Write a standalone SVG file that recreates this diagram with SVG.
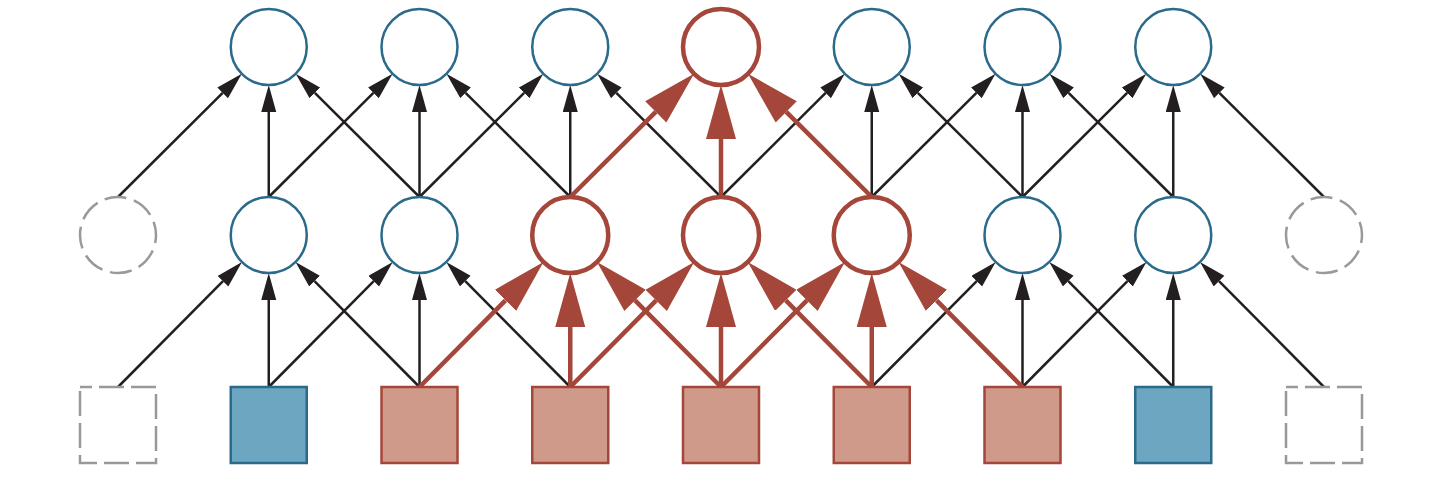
<svg xmlns="http://www.w3.org/2000/svg" width="1438" height="483" viewBox="0 0 1438 483">
<defs>
<style>
.bg{fill:#ffffff}
.e{fill:none;stroke:#231f20;stroke-width:2.5;marker-end:url(#ab)}
.er{fill:none;stroke:#a5463a;stroke-width:4.5;marker-end:url(#ar)}
.cb{fill:#ffffff;stroke:#2a6a8a;stroke-width:2.5}
.cr{fill:#ffffff;stroke:#a5463a;stroke-width:4.5}
.dc{fill:none;stroke:#999999;stroke-width:2.5;stroke-dasharray:22 7.87;stroke-dashoffset:14}
.ds{fill:none;stroke:#999999;stroke-width:2.5;stroke-dasharray:25 7;stroke-dashoffset:13}
.sb{fill:#6ca6c1;stroke:#2a6a8a;stroke-width:2.5}
.sr{fill:#d09a8b;stroke:#a5463a;stroke-width:2.5}
</style>
<marker id="ab" markerUnits="userSpaceOnUse" markerWidth="28" markerHeight="16" refX="0" refY="7.5" orient="auto">
<path d="M0,0 L27,7.5 L0,15 Z" fill="#231f20"/>
</marker>
<marker id="ar" markerUnits="userSpaceOnUse" markerWidth="55" markerHeight="31" refX="0" refY="15" orient="auto">
<path d="M0,0 L54,15 L0,30 Z" fill="#a5463a"/>
</marker>
</defs>
<rect class="bg" x="0" y="0" width="1438" height="483"/>
<g id="connectors">
<line class="e" x1="118" y1="387" x2="222.98" y2="281.15"/>
<line class="e" x1="268.75" y1="387" x2="268.75" y2="300"/>
<line class="e" x1="419.5" y1="387" x2="314.52" y2="281.15"/>
<line class="e" x1="268.75" y1="387" x2="373.73" y2="281.15"/>
<line class="e" x1="419.5" y1="387" x2="419.5" y2="300"/>
<line class="e" x1="570.25" y1="387" x2="465.27" y2="281.15"/>
<line class="e" x1="871.75" y1="387" x2="976.73" y2="281.15"/>
<line class="e" x1="1022.5" y1="387" x2="1022.5" y2="300"/>
<line class="e" x1="1173.25" y1="387" x2="1068.27" y2="281.15"/>
<line class="e" x1="1022.5" y1="387" x2="1127.48" y2="281.15"/>
<line class="e" x1="1173.25" y1="387" x2="1173.25" y2="300"/>
<line class="e" x1="1324" y1="387" x2="1219.02" y2="281.15"/>
<line class="e" x1="118" y1="197" x2="222.67" y2="92.84"/>
<line class="e" x1="268.75" y1="197" x2="268.75" y2="112"/>
<line class="e" x1="419.5" y1="197" x2="314.83" y2="92.84"/>
<line class="e" x1="268.75" y1="197" x2="373.42" y2="92.84"/>
<line class="e" x1="419.5" y1="197" x2="419.5" y2="112"/>
<line class="e" x1="570.25" y1="197" x2="465.58" y2="92.84"/>
<line class="e" x1="419.5" y1="197" x2="524.17" y2="92.84"/>
<line class="e" x1="570.25" y1="197" x2="570.25" y2="112"/>
<line class="e" x1="721" y1="197" x2="616.33" y2="92.84"/>
<line class="e" x1="721" y1="197" x2="825.67" y2="92.84"/>
<line class="e" x1="871.75" y1="197" x2="871.75" y2="112"/>
<line class="e" x1="1022.5" y1="197" x2="917.83" y2="92.84"/>
<line class="e" x1="871.75" y1="197" x2="976.42" y2="92.84"/>
<line class="e" x1="1022.5" y1="197" x2="1022.5" y2="112"/>
<line class="e" x1="1173.25" y1="197" x2="1068.58" y2="92.84"/>
<line class="e" x1="1022.5" y1="197" x2="1127.17" y2="92.84"/>
<line class="e" x1="1173.25" y1="197" x2="1173.25" y2="112"/>
<line class="e" x1="1324" y1="197" x2="1219.33" y2="92.84"/>
<line class="er" x1="419.5" y1="387" x2="505.46" y2="300.32"/>
<line class="er" x1="570.25" y1="387" x2="570.25" y2="327"/>
<line class="er" x1="721" y1="387" x2="635.04" y2="300.32"/>
<line class="er" x1="570.25" y1="387" x2="656.21" y2="300.32"/>
<line class="er" x1="721" y1="387" x2="721" y2="327"/>
<line class="er" x1="871.75" y1="387" x2="785.79" y2="300.32"/>
<line class="er" x1="721" y1="387" x2="806.96" y2="300.32"/>
<line class="er" x1="871.75" y1="387" x2="871.75" y2="327"/>
<line class="er" x1="1022.5" y1="387" x2="936.54" y2="300.32"/>
<line class="er" x1="570.25" y1="197" x2="655.78" y2="111.89"/>
<line class="er" x1="721" y1="197" x2="721" y2="139"/>
<line class="er" x1="871.75" y1="197" x2="786.22" y2="111.89"/>
</g>
<g id="top-row">
<circle id="t1" class="cb" cx="268.75" cy="47" r="38"/>
<circle id="t2" class="cb" cx="419.5" cy="47" r="38"/>
<circle id="t3" class="cb" cx="570.25" cy="47" r="38"/>
<circle id="t4" class="cr" cx="721" cy="47" r="38"/>
<circle id="t5" class="cb" cx="871.75" cy="47" r="38"/>
<circle id="t6" class="cb" cx="1022.5" cy="47" r="38"/>
<circle id="t7" class="cb" cx="1173.25" cy="47" r="38"/>
</g>
<g id="middle-row">
<circle id="m0" class="dc" cx="118" cy="235" r="38"/>
<circle id="m1" class="cb" cx="268.75" cy="235" r="38"/>
<circle id="m2" class="cb" cx="419.5" cy="235" r="38"/>
<circle id="m3" class="cr" cx="570.25" cy="235" r="38"/>
<circle id="m4" class="cr" cx="721" cy="235" r="38"/>
<circle id="m5" class="cr" cx="871.75" cy="235" r="38"/>
<circle id="m6" class="cb" cx="1022.5" cy="235" r="38"/>
<circle id="m7" class="cb" cx="1173.25" cy="235" r="38"/>
<circle id="m8" class="dc" cx="1324" cy="235" r="38"/>
</g>
<g id="bottom-row">
<rect id="b0" class="ds" x="80" y="387" width="76" height="76"/>
<rect id="b1" class="sb" x="230.75" y="387" width="76" height="76"/>
<rect id="b2" class="sr" x="381.5" y="387" width="76" height="76"/>
<rect id="b3" class="sr" x="532.25" y="387" width="76" height="76"/>
<rect id="b4" class="sr" x="683" y="387" width="76" height="76"/>
<rect id="b5" class="sr" x="833.75" y="387" width="76" height="76"/>
<rect id="b6" class="sr" x="984.5" y="387" width="76" height="76"/>
<rect id="b7" class="sb" x="1135.25" y="387" width="76" height="76"/>
<rect id="b8" class="ds" x="1286" y="387" width="76" height="76"/>
</g>
</svg>
